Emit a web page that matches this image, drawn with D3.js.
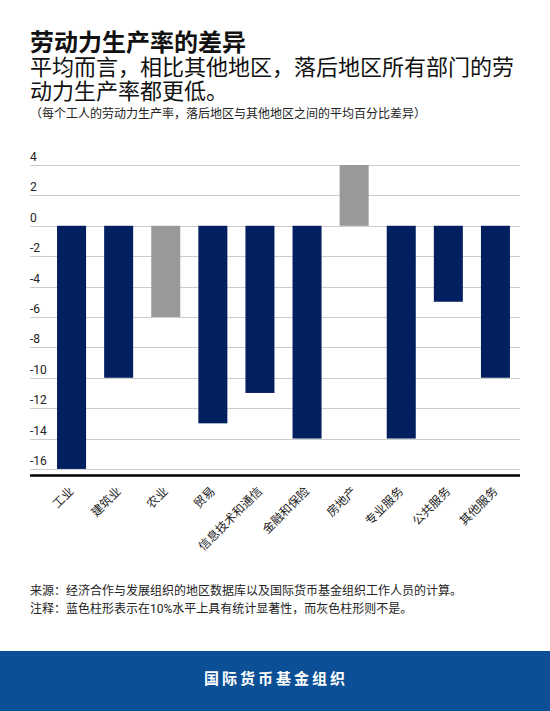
<!DOCTYPE html>
<html>
<head>
<meta charset="utf-8">
<script src="https://cdn.jsdelivr.net/npm/d3@7"></script>
<style>
  body { margin: 0; background: #fff; }
  svg { display: block; font-family: Roboto, "Noto Sans CJK SC", sans-serif; }
</style>
</head>
<body>
<svg id="chart" width="550" height="711"></svg>
<script>
// data
var sectors = ["工业", "建筑业", "农业", "贸易", "信息技术和通信", "金融和保险", "房地产", "专业服务", "公共服务", "其他服务"];
var gaps = [-16, -10, -6, -13, -11, -14, 4, -14, -5, -10];
var significant = [true, true, false, true, true, true, false, true, true, true];
var yTicks = [4, 2, 0, -2, -4, -6, -8, -10, -12, -14, -16];

var svg = d3.select("#chart");

// titles
svg.append("text")
  .attr("x", 30).attr("y", 51)
  .style("font-size", "24px").style("font-weight", "bold").style("fill", "#111")
  .text("劳动力生产率的差异");

var subLines = ["平均而言，相比其他地区，落后地区所有部门的劳", "动力生产率都更低。"];
svg.selectAll(".sub")
  .data(subLines)
  .enter().append("text")
  .attr("class", "sub")
  .attr("x", 30)
  .attr("y", function(d, i) { return 75 + i * 24; })
  .style("font-size", "22px").style("fill", "#111")
  .text(function(d) { return d; });

svg.append("text")
  .attr("x", 30).attr("y", 118)
  .style("font-size", "12px").style("fill", "#222")
  .text("（每个工人的劳动力生产率，落后地区与其他地区之间的平均百分比差异）");

// scales
var x = d3.scaleBand()
  .domain(sectors)
  .range([48, 519])
  .paddingInner(0.384)
  .paddingOuter(0.192);

var y = d3.scaleLinear()
  .domain([-16.4, 4])
  .range([475, 165]);

// gridlines + labels
var grid = svg.append("g");
grid.selectAll("line")
  .data(yTicks)
  .enter().append("line")
  .attr("x1", 30).attr("x2", 520)
  .attr("y1", function(d) { return Math.round(y(d)) + 0.5; })
  .attr("y2", function(d) { return Math.round(y(d)) + 0.5; })
  .style("stroke", "#cccccc").style("stroke-width", 1);

grid.selectAll("text")
  .data(yTicks)
  .enter().append("text")
  .attr("x", 30)
  .attr("y", function(d) { return y(d) - 4; })
  .style("font-size", "12px").style("fill", "#222")
  .text(function(d) { return d; });

// bars
svg.append("g").selectAll("rect")
  .data(gaps)
  .enter().append("rect")
  .attr("x", function(d, i) { return x(sectors[i]); })
  .attr("width", x.bandwidth())
  .attr("y", function(d) { return y(Math.max(0, d)); })
  .attr("height", function(d) { return Math.abs(y(d) - y(0)); })
  .style("fill", function(d, i) { return significant[i] ? "#021f5f" : "#999999"; });

// baseline axis
svg.append("line")
  .attr("x1", 30).attr("x2", 520)
  .attr("y1", 475.5).attr("y2", 475.5)
  .style("stroke", "#000").style("stroke-width", 2.5);

// category labels
svg.append("g").selectAll("text")
  .data(sectors)
  .enter().append("text")
  .attr("transform", function(d) {
    return "translate(" + (x(d) + x.bandwidth() / 2 + 3) + ",492) rotate(-45)";
  })
  .style("text-anchor", "end")
  .style("font-size", "12px").style("fill", "#222")
  .text(function(d) { return d; });

// notes
var notes = ["来源：经济合作与发展组织的地区数据库以及国际货币基金组织工作人员的计算。",
  "注释：蓝色柱形表示在10%水平上具有统计显著性，而灰色柱形则不是。"];
svg.selectAll(".note")
  .data(notes)
  .enter().append("text")
  .attr("class", "note")
  .attr("x", 30)
  .attr("y", function(d, i) { return 595 + i * 18; })
  .style("font-size", "12px").style("fill", "#222")
  .text(function(d) { return d; });

// footer band
svg.append("rect")
  .attr("x", 0).attr("y", 651)
  .attr("width", 550).attr("height", 60)
  .style("fill", "#0b4f96");

svg.append("text")
  .attr("x", 276).attr("y", 684)
  .style("text-anchor", "middle")
  .style("font-size", "15px").style("font-weight", "bold")
  .style("letter-spacing", "3px")
  .style("fill", "#fff")
  .text("国际货币基金组织");
</script>
</body>
</html>
